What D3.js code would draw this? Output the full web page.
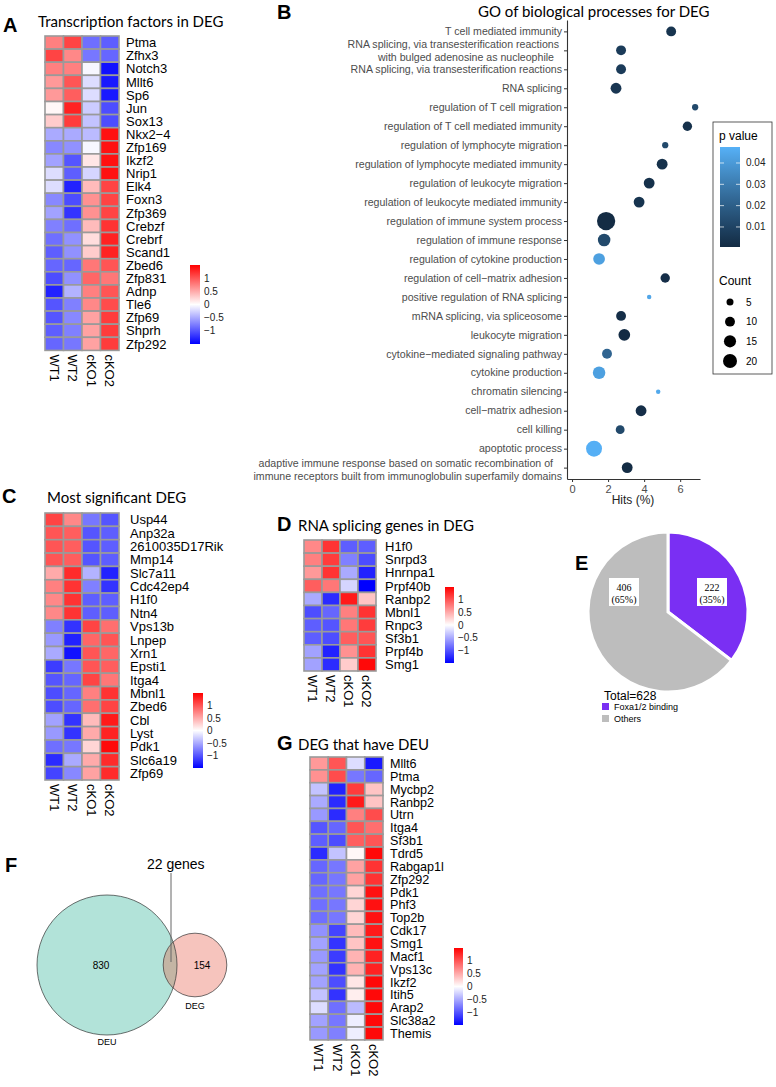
<!DOCTYPE html>
<html><head><meta charset="utf-8">
<script src="https://cdn.jsdelivr.net/npm/d3@7"></script>
<style>body{margin:0;background:#fff}svg{display:block}</style>
</head><body>
<svg id="c" width="776" height="1087"></svg>
<script>
// ---------------- DATA ----------------
const samples = ["WT1","WT2","cKO1","cKO2"];

const tfGenes = ["Ptma","Zfhx3","Notch3","Mllt6","Sp6","Jun","Sox13","Nkx2−4","Zfp169","Ikzf2","Nrip1","Elk4","Foxn3","Zfp369","Crebzf","Crebrf","Scand1","Zbed6","Zfp831","Adnp","Tle6","Zfp69","Shprh","Zfp292"];
const tfValues = [
 [0.75,1.1,-0.85,-0.95],[1.1,0.7,-0.8,-0.9],[0.75,0.75,-0.05,-1.4],[0.6,1.0,-0.2,-1.35],
 [0.6,0.95,-0.2,-1.35],[0.05,1.3,-0.3,-1.05],[0.3,1.15,-0.35,-1.05],[-0.5,-0.5,-0.4,1.4],
 [-0.7,-0.65,-0.05,1.4],[-0.55,-1.0,0.15,1.4],[-0.2,-0.95,-0.25,1.4],[-0.2,-1.3,0.4,1.1],
 [-0.7,-1.05,0.65,1.1],[-0.55,-1.2,0.65,1.1],[-0.75,-0.85,0.4,1.2],[-0.85,-0.65,0.2,1.3],
 [-0.95,-0.65,0.3,1.3],[-0.9,-0.9,0.8,1.0],[-1.05,-0.65,0.9,0.8],[-1.3,-0.45,0.75,1.0],
 [-1.0,-0.75,0.7,1.05],[-1.0,-0.7,0.55,1.15],[-0.95,-0.75,0.55,1.15],[-0.9,-0.8,0.55,1.15]];

const sigGenes = ["Usp44","Anp32a","2610035D17Rik","Mmp14","Slc7a11","Cdc42ep4","H1f0","Ntn4","Vps13b","Lnpep","Xrn1","Epsti1","Itga4","Mbnl1","Zbed6","Cbl","Lyst","Pdk1","Slc6a19","Zfp69"];
const sigValues = [
 [1.1,0.7,-0.8,-1.0],[1.0,0.95,-1.0,-0.95],[1.0,0.95,-1.0,-0.95],[1.0,0.95,-1.0,-0.95],
 [0.5,1.25,-0.45,-1.3],[0.75,1.2,-0.75,-1.2],[0.7,1.2,-0.95,-0.95],[0.7,1.2,-0.95,-0.95],
 [-0.75,-1.2,1.1,0.85],[-0.6,-1.3,0.9,1.0],[-0.5,-1.4,1.0,0.9],[-1.15,-0.8,1.0,0.95],
 [-1.0,-0.9,1.1,0.8],[-1.05,-0.9,0.75,1.2],[-1.05,-0.9,0.85,1.1],[-0.55,-1.2,0.4,1.35],
 [-0.6,-1.2,0.5,1.3],[-0.85,-0.8,0.25,1.45],[-1.25,-0.5,0.5,1.25],[-1.1,-0.7,0.55,1.25]];

const spliceGenes = ["H1f0","Snrpd3","Hnrnpa1","Prpf40b","Ranbp2","Mbnl1","Rnpc3","Sf3b1","Prpf4b","Smg1"];
const spliceValues = [
 [0.7,1.2,-0.95,-0.95],[0.75,1.15,-0.75,-1.05],[0.6,1.2,-0.5,-1.3],[0.95,0.8,-0.25,-1.5],
 [-0.5,-1.25,1.35,0.35],[-1.05,-0.9,0.75,1.2],[-0.95,-1.0,0.8,1.15],[-0.95,-1.05,0.95,1.0],
 [-0.55,-1.3,0.65,1.2],[-0.55,-1.25,0.3,1.45]];

const deuGenes = ["Mllt6","Ptma","Mycbp2","Ranbp2","Utrn","Itga4","Sf3b1","Tdrd5","Rabgap1l","Zfp292","Pdk1","Phf3","Top2b","Cdk17","Smg1","Macf1","Vps13c","Ikzf2","Itih5","Arap2","Slc38a2","Themis"];
const deuValues = [
 [0.6,1.0,-0.2,-1.35],[0.65,1.05,-0.8,-0.9],[-0.35,-1.3,1.15,0.35],[-0.5,-1.25,1.35,0.35],
 [-0.6,-1.25,0.75,1.05],[-1.0,-0.9,1.0,0.85],[-0.95,-1.05,0.95,1.0],[-1.25,-0.35,0.05,1.45],
 [-0.9,-0.8,0.55,1.2],[-0.9,-0.8,0.55,1.2],[-0.85,-0.8,0.25,1.4],[-0.85,-0.8,0.25,1.4],
 [-0.85,-0.8,0.25,1.4],[-0.65,-1.1,0.4,1.35],[-0.55,-1.2,0.35,1.4],[-0.6,-1.15,0.45,1.3],
 [-0.55,-1.2,0.45,1.3],[-0.55,-1.05,0.15,1.45],[-0.35,-1.2,0.1,1.45],[-0.2,-0.85,-0.4,1.45],
 [-0.55,-0.8,-0.1,1.45],[-0.6,-0.75,-0.1,1.45]];
const heatTicks = [1,0.5,0,-0.5,-1];

const goTerms = ["T cell mediated immunity",
 "RNA splicing, via transesterification reactions\nwith bulged adenosine as nucleophile",
 "RNA splicing, via transesterification reactions","RNA splicing",
 "regulation of T cell migration","regulation of T cell mediated immunity",
 "regulation of lymphocyte migration","regulation of lymphocyte mediated immunity",
 "regulation of leukocyte migration","regulation of leukocyte mediated immunity",
 "regulation of immune system process","regulation of immune response",
 "regulation of cytokine production","regulation of cell−matrix adhesion",
 "positive regulation of RNA splicing","mRNA splicing, via spliceosome","leukocyte migration",
 "cytokine−mediated signaling pathway","cytokine production","chromatin silencing",
 "cell−matrix adhesion","cell killing","apoptotic process",
 "adaptive immune response based on somatic recombination of\nimmune receptors built from immunoglobulin superfamily domains"];
const goHits   = [5.5,2.72,2.72,2.44,6.83,6.4,5.17,5.0,4.28,3.72,1.89,1.78,1.5,5.17,4.28,2.72,2.9,1.94,1.5,4.78,3.83,2.67,1.22,3.06];
const goCounts = [10,10,10,12,4,9,4,12,12,12,34,16,14,9,2,10,14,10,16,2,12,8,26,12];
const goP      = [0.004,0.007,0.007,0.005,0.012,0.003,0.012,0.003,0.003,0.004,0.001,0.012,0.042,0.002,0.044,0.002,0.0008,0.022,0.042,0.045,0.002,0.012,0.047,0.001];
const hitTicks = [0,2,4,6];
const pTicks = [0.01,0.02,0.03,0.04];
const countTicks = [5,10,15,20];

const pieNames = ["Foxa1/2 binding","Others"];
const pieValues = [222,406];
const pieTotal = 628;

const vennSets = ["DEU","DEG"];
const vennOnly = [830,154];
const vennShared = 22;

// ---------------- DRAW ----------------
const svg = d3.select("#c");
const defs = svg.append("defs");
const SANS = "'Liberation Sans', Arial, sans-serif";
const TITLE = "Lato, 'Open Sans', sans-serif";
const fmtTick = v => (v<0?"−":"") + Math.abs(v);

function panelLetter(t,x,y){
  svg.append("text").attr("x",x).attr("y",y).text(t)
    .style("font-family",SANS).style("font-weight","bold").style("font-size","20px");
}
function title(t,x,y){
  svg.append("text").attr("x",x).attr("y",y).text(t)
    .style("font-family",TITLE).style("font-size","15px").attr("fill","#000");
}

const heatColor = d3.scaleLinear().domain([-1.5,0,1.5]).range(["#0000ff","#ffffff","#ff0000"]).clamp(true);
let gradN = 0;
function heatmap(o){
  const g = svg.append("g");
  const x = d3.scaleBand().domain(samples).range([o.x0,o.x1]);
  const y = d3.scaleBand().domain(o.genes).range([o.y0,o.y0+o.rowH*o.genes.length]);
  const cells = [];
  o.values.forEach((r,i)=>r.forEach((v,j)=>cells.push({g:o.genes[i],s:samples[j],v})));
  g.selectAll("rect.cell").data(cells).join("rect")
    .attr("x",d=>x(d.s)).attr("y",d=>y(d.g))
    .attr("width",x.bandwidth()).attr("height",y.bandwidth())
    .attr("fill",d=>heatColor(d.v)).attr("stroke","#9a9a9a").attr("stroke-width",1.6);
  g.selectAll("text.row").data(o.genes).join("text")
    .attr("x",o.labelX).attr("y",d=>y(d)+y.bandwidth()/2).attr("dy","0.36em").text(d=>d)
    .style("font-family",SANS).style("font-size",o.font||"13px");
  const yb = y.range()[1];
  g.selectAll("text.col").data(samples).join("text")
    .attr("transform",d=>`translate(${x(d)+x.bandwidth()/2},${yb+4}) rotate(90)`)
    .attr("dy","0.36em").text(d=>d)
    .style("font-family",SANS).style("font-size","13px");
  const id = "hg"+(gradN++);
  const lg = defs.append("linearGradient").attr("id",id).attr("x1",0).attr("y1",1).attr("x2",0).attr("y2",0);
  d3.range(0,1.0001,0.1).forEach(t=>lg.append("stop").attr("offset",t).attr("stop-color",heatColor(-1.5+3*t)));
  const cy = d3.scaleLinear().domain([-1.5,1.5]).range([o.cb.y1,o.cb.y0]);
  g.append("rect").attr("x",o.cb.x).attr("y",o.cb.y0).attr("width",o.cb.w).attr("height",o.cb.y1-o.cb.y0).attr("fill",`url(#${id})`);
  g.selectAll("text.cb").data(heatTicks).join("text")
    .attr("x",o.cb.x+o.cb.w+4).attr("y",d=>cy(d)).attr("dy","0.36em").text(fmtTick)
    .style("font-family",SANS).style("font-size","10px").attr("fill","#222");
}

// Panel A
panelLetter("A",3,32);
title("Transcription factors in DEG",38,27);
heatmap({genes:tfGenes,values:tfValues,x0:45,x1:119,y0:36,rowH:13.1,labelX:126,cb:{x:190,w:10,y0:265,y1:344}});

// Panel C
panelLetter("C",2,503);
title("Most significant DEG",47,503);
heatmap({genes:sigGenes,values:sigValues,x0:45,x1:119,y0:513,rowH:13.35,labelX:130,cb:{x:193,w:10,y0:693,y1:768}});

// Panel D
panelLetter("D",277,531);
title("RNA splicing genes in DEG",298,531);
heatmap({genes:spliceGenes,values:spliceValues,x0:304,x1:376,y0:540,rowH:13.1,labelX:385,cb:{x:445,w:9,y0:587,y1:663}});

// Panel G
panelLetter("G",277,750);
title("DEG that have DEU",298,750);
heatmap({genes:deuGenes,values:deuValues,x0:310,x1:383,y0:757,rowH:12.86,labelX:390,font:"12.6px",cb:{x:454,w:9,y0:948,y1:1025}});

// Panel B : GO dot plot
panelLetter("B",277,19);
svg.append("text").attr("x",478).attr("y",17).text("GO of biological processes for DEG")
  .style("font-family",TITLE).style("font-size","15px");
const bx = d3.scaleLinear().domain([-0.28,7.1]).range([567,700]);
const by = d3.scalePoint().domain(goTerms).range([20,479]).padding(0.6);
const pCol = d3.scaleLinear().domain([0.0006,0.0475]).range(["#132B43","#56B1F7"]).interpolate(d3.interpolateLab);
const rSize = d3.scaleSqrt().domain([0,20]).range([0,7]);
const gb = svg.append("g");
const axB = gb.append("g").attr("transform","translate(0,479)")
  .call(d3.axisBottom(bx).tickValues(hitTicks).tickSize(3).tickSizeOuter(0).tickFormat(d3.format("d")));
const axL = gb.append("g").attr("transform","translate(567,0)")
  .call(d3.axisLeft(by).tickSize(3).tickSizeOuter(0));
axL.selectAll(".tick text").remove();
[axB,axL].forEach(a=>{a.select(".domain").attr("stroke","#333").attr("stroke-width",1.1);
  a.selectAll(".tick line").attr("stroke","#333");});
axB.selectAll(".tick text").style("font-family",SANS).style("font-size","11px").attr("fill","#4d4d4d").attr("y",6);
const lineShift = {"RNA splicing, via transesterification reactions\nwith bulged adenosine as nucleophile":[-3,-8],
  "adaptive immune response based on somatic recombination of\nimmune receptors built from immunoglobulin superfamily domains":[-9,0]};
const lineDy = {"adaptive immune response based on somatic recombination of\nimmune receptors built from immunoglobulin superfamily domains":2};
goTerms.forEach(t=>{
  const lines = t.split("\n");
  const txt = gb.append("text").style("font-family",SANS).style("font-size","10.6px").attr("fill","#4d4d4d").attr("text-anchor","end");
  lines.forEach((l,i)=>{
    txt.append("tspan").attr("x",562+(lineShift[t]?lineShift[t][i]:0))
      .attr("y",by(t)+(lineDy[t]||0)+(i-(lines.length-1)/2)*13).attr("dy","0.35em").text(l);
  });
});
gb.selectAll("circle.dot").data(goTerms.map((t,i)=>({t,h:goHits[i],c:goCounts[i],p:goP[i]}))).join("circle")
  .attr("cx",d=>bx(d.h)).attr("cy",d=>by(d.t)).attr("r",d=>rSize(d.c)).attr("fill",d=>pCol(d.p));
gb.append("text").attr("x",633).attr("y",504).attr("text-anchor","middle").text("Hits (%)")
  .style("font-family",SANS).style("font-size","12px").attr("fill","#222");
// legend
const lgB = gb.append("g");
lgB.append("rect").attr("x",713).attr("y",122).attr("width",59).attr("height",252).attr("fill","#fff").attr("stroke","#333").attr("stroke-width",0.8);
lgB.append("text").attr("x",719).attr("y",140).text("p value").style("font-family",SANS).style("font-size","12px");
const pg = defs.append("linearGradient").attr("id","pg").attr("x1",0).attr("y1",1).attr("x2",0).attr("y2",0);
d3.range(0,1.0001,0.1).forEach(t=>pg.append("stop").attr("offset",t).attr("stop-color",pCol(0.0006+t*(0.0475-0.0006))));
const pl = d3.scaleLinear().domain([0.0006,0.0475]).range([247,147]);
lgB.append("rect").attr("x",720).attr("y",147).attr("width",20).attr("height",100).attr("fill","url(#pg)");
pTicks.forEach(v=>{
  lgB.append("line").attr("x1",720).attr("x2",724).attr("y1",pl(v)).attr("y2",pl(v)).attr("stroke","#fff").attr("stroke-opacity",0.7);
  lgB.append("line").attr("x1",736).attr("x2",740).attr("y1",pl(v)).attr("y2",pl(v)).attr("stroke","#fff").attr("stroke-opacity",0.7);
  lgB.append("text").attr("x",746).attr("y",pl(v)).attr("dy","0.35em").text(v.toFixed(2)).style("font-family",SANS).style("font-size","10px").attr("fill","#222");
});
lgB.append("text").attr("x",719).attr("y",285).text("Count").style("font-family",SANS).style("font-size","12px");
const cyL = d3.scalePoint().domain(countTicks).range([302,361]);
lgB.selectAll("circle").data(countTicks).join("circle").attr("cx",730).attr("cy",d=>cyL(d)).attr("r",d=>rSize(d)).attr("fill","#000");
lgB.selectAll("text.ct").data(countTicks).join("text").attr("x",746).attr("y",d=>cyL(d)).attr("dy","0.35em").text(d=>d)
  .style("font-family",SANS).style("font-size","10px");

// Panel E : pie
panelLetter("E",575,570);
const pc = {x:668,y:612}, pr = 80;
const pie = d3.pie().sort(null).startAngle(0)(pieValues);
const arc = d3.arc().innerRadius(0).outerRadius(pr);
const pieCol = ["#7a2ff3","#bdbdbd"];
const ge = svg.append("g").attr("transform",`translate(${pc.x},${pc.y})`);
ge.selectAll("path").data(pie).join("path").attr("d",arc).attr("fill",(d,i)=>pieCol[i]).attr("stroke","#fff").attr("stroke-width",3);
const labOff = [[0.55,-0.25],[-0.55,-0.25]];
pie.forEach((d,i)=>{
  const lx = labOff[i][0]*pr, ly = labOff[i][1]*pr;
  ge.append("rect").attr("x",lx-15).attr("y",ly-14).attr("width",30).attr("height",28).attr("fill","#fff");
  ge.append("text").attr("x",lx).attr("y",ly-5).attr("text-anchor","middle").attr("dy","0.35em").text(d.data)
    .style("font-family","'Liberation Serif', serif").style("font-size","10px");
  ge.append("text").attr("x",lx).attr("y",ly+7).attr("text-anchor","middle").attr("dy","0.35em").text(`(${Math.round(d.data/pieTotal*100)}%)`)
    .style("font-family","'Liberation Serif', serif").style("font-size","10px");
});
svg.append("text").attr("x",604).attr("y",700).text("Total="+pieTotal).style("font-family",SANS).style("font-size","12px");
pieNames.forEach((n,i)=>{
  svg.append("rect").attr("x",602).attr("y",703+i*12).attr("width",7).attr("height",7).attr("fill",pieCol[i]);
  svg.append("text").attr("x",614).attr("y",707+i*12).attr("dy","0.35em").text(n).style("font-family",SANS).style("font-size","9px");
});

// Panel F : Venn
panelLetter("F",5,872);
const vr = d3.scaleSqrt().domain([0,vennOnly[0]+vennShared]).range([0,70]);
const rBig = vr(vennOnly[0]+vennShared), rSmall = vr(vennOnly[1]+vennShared);
const cBig = {x:107,y:965}, cSmall = {x:195,y:965};
const gf = svg.append("g");
defs.append("clipPath").attr("id","clipBig").append("circle").attr("cx",cBig.x).attr("cy",cBig.y).attr("r",rBig);
gf.append("circle").attr("cx",cBig.x).attr("cy",cBig.y).attr("r",rBig).attr("fill","#b2e3d9");
gf.append("circle").attr("cx",cSmall.x).attr("cy",cSmall.y).attr("r",rSmall).attr("fill","#f6c4bd");
gf.append("circle").attr("clip-path","url(#clipBig)").attr("cx",cSmall.x).attr("cy",cSmall.y).attr("r",rSmall).attr("fill","#c4b5a4");
gf.append("circle").attr("cx",cBig.x).attr("cy",cBig.y).attr("r",rBig).attr("fill","none").attr("stroke","#333").attr("stroke-width",0.7);
gf.append("circle").attr("cx",cSmall.x).attr("cy",cSmall.y).attr("r",rSmall).attr("fill","none").attr("stroke","#333").attr("stroke-width",0.7);
gf.append("text").attr("x",101).attr("y",cBig.y).attr("dy","0.35em").attr("text-anchor","middle").text(vennOnly[0]).style("font-family",SANS).style("font-size","10px");
gf.append("text").attr("x",202).attr("y",cSmall.y).attr("dy","0.35em").attr("text-anchor","middle").text(vennOnly[1]).style("font-family",SANS).style("font-size","10px");
gf.append("text").attr("x",cBig.x).attr("y",cBig.y+rBig+10).attr("text-anchor","middle").text(vennSets[0]).style("font-family",SANS).style("font-size","9px");
gf.append("text").attr("x",cSmall.x).attr("y",cSmall.y+rSmall+12).attr("text-anchor","middle").text(vennSets[1]).style("font-family",SANS).style("font-size","9px");
gf.append("line").attr("x1",171).attr("x2",171).attr("y1",873).attr("y2",962).attr("stroke","#666").attr("stroke-width",1);
gf.append("text").attr("x",147).attr("y",869).text(vennShared+" genes").style("font-family",SANS).style("font-size","14px");
</script>
</body></html>
